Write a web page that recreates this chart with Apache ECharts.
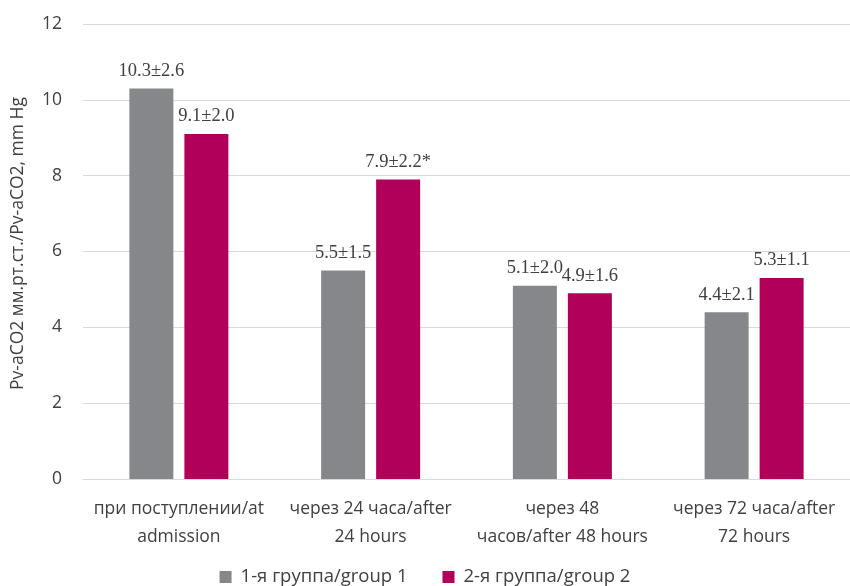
<!DOCTYPE html>
<html>
<head>
<meta charset="utf-8">
<script src="https://cdn.jsdelivr.net/npm/echarts@6/dist/echarts.min.js"></script>
<style>
  html, body { margin: 0; padding: 0; background: #fff; }
  #chart { width: 850px; height: 586px; }
</style>
</head>
<body>
<div id="chart"></div>
<script>
// Time points (x axis categories)
const categories = [
  'при поступлении/at\nadmission',
  'через 24 часа/after\n24 hours',
  'через 48\nчасов/after 48 hours',
  'через 72 часа/after\n72 hours'
];
// Series names
const seriesNames = ['1-я группа/group 1', '2-я группа/group 2'];
// Mean values per group
const group1Values = [10.3, 5.5, 5.1, 4.4];
const group2Values = [9.1, 7.9, 4.9, 5.3];
// Value annotations (mean ± SD)
const group1Labels = ['10.3±2.6', '5.5±1.5', '5.1±2.0', '4.4±2.1'];
const group2Labels = ['9.1±2.0', '7.9±2.2*', '4.9±1.6', '5.3±1.1'];

const sansFont = '"Open Sans", "Noto Sans", sans-serif';
const serifFont = '"Liberation Serif", "DejaVu Serif", serif';

const chart = echarts.init(document.getElementById('chart'));

function barSeries(name, values, labels, color) {
  return {
    name: name,
    type: 'bar',
    data: values,
    barWidth: 44,
    barGap: '25%',
    itemStyle: { color: color },
    label: {
      show: true,
      position: 'top',
      distance: 8,
      fontFamily: serifFont,
      fontSize: 18.5,
      color: '#404040',
      formatter: p => labels[p.dataIndex]
    }
  };
}

chart.setOption({
  animation: false,
  backgroundColor: '#ffffff',
  grid: { left: 83, right: 0, top: 24, bottom: 107, containLabel: false },
  legend: {
    top: 566,
    left: 'center',
    icon: 'rect',
    padding: 0,
    itemWidth: 12,
    itemHeight: 12,
    itemGap: 35,
    textStyle: { fontFamily: sansFont, fontSize: 18.5, lineHeight: 22, color: '#404040', padding: [0, 0, 0, 4] },
    data: seriesNames
  },
  xAxis: {
    type: 'category',
    data: categories,
    axisTick: { show: false },
    axisLine: { lineStyle: { color: '#d9d9d9', width: 1 } },
    axisLabel: {
      interval: 0,
      margin: 16,
      fontFamily: sansFont,
      fontSize: 17.5,
      lineHeight: 28,
      color: '#404040'
    }
  },
  yAxis: {
    type: 'value',
    min: 0,
    max: 12,
    interval: 2,
    name: 'Pv-aCO2 мм.рт.ст./Pv-aCO2, mm Hg',
    nameLocation: 'middle',
    nameGap: 56,
    nameTextStyle: { fontFamily: sansFont, fontSize: 17.5, color: '#404040', padding: [0, 0, 0, 16] },
    axisLabel: { fontFamily: sansFont, fontSize: 17.5, color: '#404040', margin: 21 },
    axisLine: { show: false },
    axisTick: { show: false },
    splitLine: { lineStyle: { color: '#d9d9d9', width: 1 } }
  },
  series: [
    barSeries(seriesNames[0], group1Values, group1Labels, '#86878b'),
    barSeries(seriesNames[1], group2Values, group2Labels, '#b0005a')
  ]
});
</script>
</body>
</html>
